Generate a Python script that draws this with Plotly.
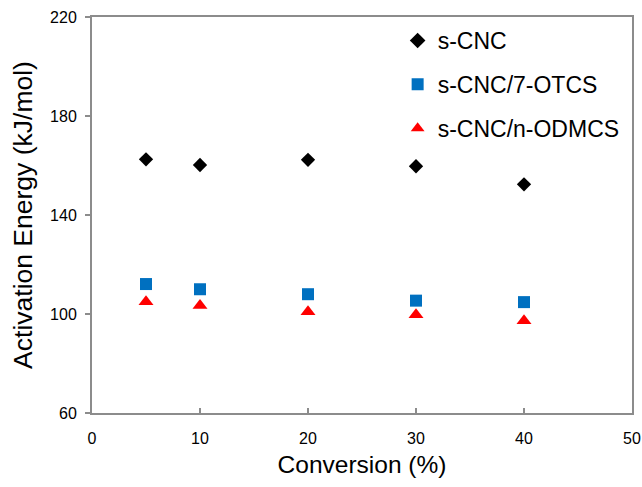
import plotly.graph_objects as go

conversion = [5, 10, 20, 30, 40]
s_cnc = [162.5, 160.2, 162.3, 159.7, 152.4]
s_cnc_otcs = [112.1, 110.0, 108.0, 105.4, 104.8]
s_cnc_odmcs = [105.0, 103.4, 100.9, 99.7, 97.3]

x_ticks = [0, 10, 20, 30, 40, 50]
y_ticks = [60, 100, 140, 180, 220]

FONT = "Liberation Sans, Arial, sans-serif"
AXIS_GREY = "#8c8c8c"

fig = go.Figure()
fig.add_trace(go.Scatter(x=conversion, y=s_cnc, mode="markers", name="s-CNC",
                         legendgroup="a",
                         marker=dict(symbol="diamond", size=11, color="black")))
fig.add_trace(go.Scatter(x=conversion, y=s_cnc_otcs, mode="markers", name="s-CNC/7-OTCS",
                         legendgroup="b",
                         marker=dict(symbol="square", size=12, color="#0070c0")))
fig.add_trace(go.Scatter(x=conversion, y=s_cnc_odmcs, mode="markers", name="s-CNC/n-ODMCS",
                         legendgroup="c",
                         marker=dict(symbol="triangle-up", size=13, color="#ff0000")))

fig.update_layout(
    width=642, height=487,
    margin=dict(l=92, r=10, t=17, b=74, autoexpand=False),
    paper_bgcolor="white", plot_bgcolor="white",
    font=dict(family=FONT, color="black"),
    showlegend=True,
    legend=dict(x=0.566, y=0.995, xanchor="left", yanchor="top",
                font=dict(size=23, family=FONT, color="black"),
                bgcolor="rgba(0,0,0,0)", tracegroupgap=11,
                itemsizing="constant"),
    xaxis=dict(range=[0, 50], tickvals=x_ticks, ticktext=[str(v) for v in x_ticks],
               showgrid=False, zeroline=False, showline=True, linecolor=AXIS_GREY,
               linewidth=2, mirror=True, ticks="inside", ticklen=5, tickcolor=AXIS_GREY,
               tickwidth=1.5, automargin=False, ticklabelstandoff=10,
               tickfont=dict(size=16, family=FONT, color="black"),
               title=dict(text="Conversion (%)", font=dict(size=24.5, family=FONT, color="black"),
                          standoff=10)),
    yaxis=dict(range=[60, 220], tickvals=y_ticks, ticktext=[str(v) for v in y_ticks],
               showgrid=False, zeroline=False, showline=True, linecolor=AXIS_GREY,
               linewidth=2, mirror=True, ticks="outside", ticklen=5, tickcolor=AXIS_GREY,
               tickwidth=1.5, automargin=False, ticklabelstandoff=5,
               tickfont=dict(size=16, family=FONT, color="black"),
               title=dict(text="Activation Energy (kJ/mol)",
                          font=dict(size=26.5, family=FONT, color="black"), standoff=10)),
)

fig.write_html("out.html")
